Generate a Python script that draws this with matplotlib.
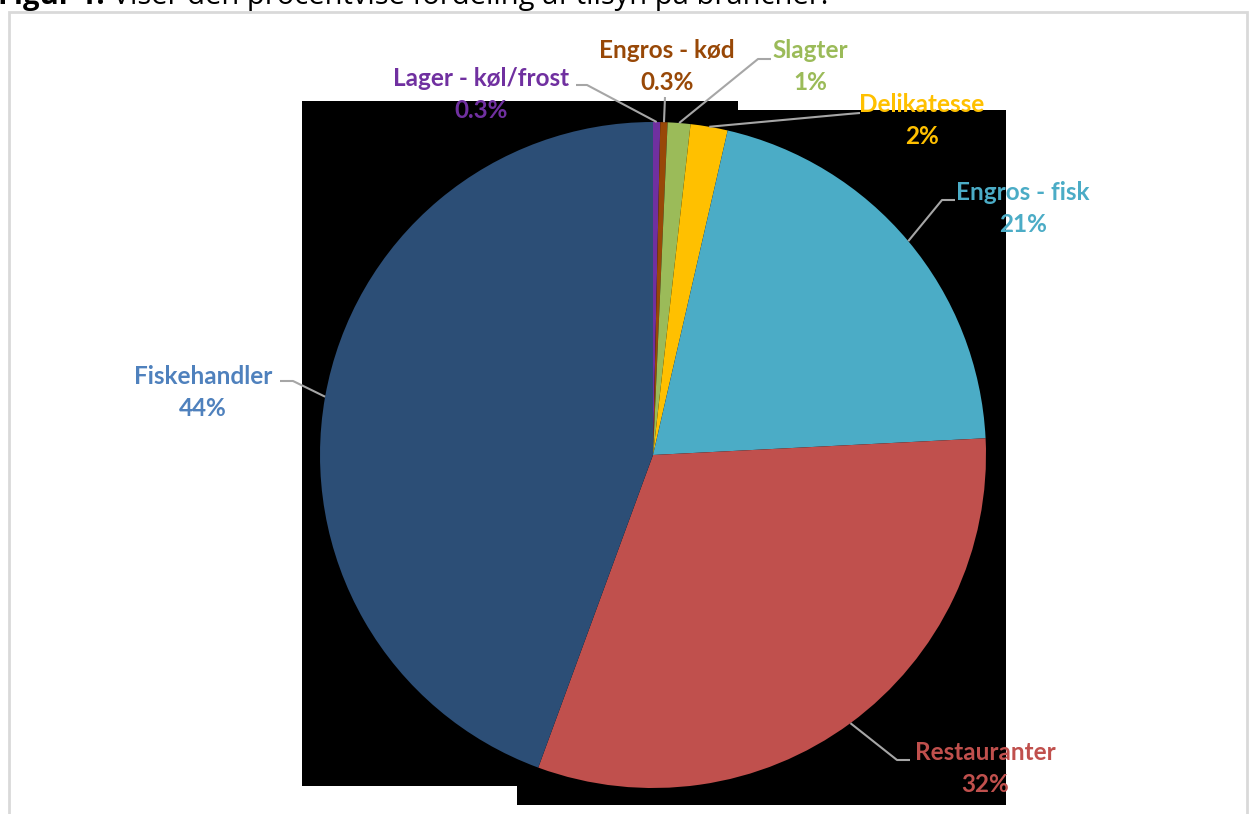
import numpy as np
import matplotlib
matplotlib.use("Agg")
import matplotlib.pyplot as plt
from matplotlib.patches import Polygon, Rectangle

# ---- data ----
categories = ["Lager - køl/frost", "Engros - kød", "Slagter", "Delikatesse",
              "Engros - fisk", "Restauranter", "Fiskehandler"]
values = [0.35, 0.35, 1.1, 1.8, 20.6, 31.4, 44.4]
pct_labels = ["0.3%", "0.3%", "1%", "2%", "21%", "32%", "44%"]
slice_colors = ["#7030A0", "#984807", "#9BBB59", "#FFC000",
                "#4BACC6", "#C0504D", "#2C4E76"]
label_colors = ["#7030A0", "#984807", "#9BBB59", "#FFC000",
                "#4BACC6", "#C0504D", "#4F81BD"]
caption_bold = "Figur 1:"
caption_rest = " Viser den procentvise fordeling af tilsyn på brancher."

W, H = 1250, 814
fig = plt.figure(figsize=(12.5, 8.14), dpi=100)
ax = fig.add_axes([0, 0, 1, 1])
ax.set_xlim(0, W)
ax.set_ylim(0, H)
ax.set_aspect("equal")
ax.axis("off")

def Y(y):  # pixel-from-top -> axis coords
    return H - y

# outer frame
ax.add_patch(Rectangle((9, Y(830)), 1238, 818, fill=False,
                       edgecolor="#D9D9D9", lw=2, zorder=0))

# black backdrop artifact
bg = [(302, 101), (738, 101), (738, 110), (1006, 110), (1006, 805),
      (517, 805), (517, 786), (302, 786)]
ax.add_patch(Polygon([(x, Y(y)) for x, y in bg], closed=True,
                     facecolor="black", edgecolor="none", zorder=1))

# caption (cut off at top, as in the reference)
fs_cap = 21
t1 = ax.text(-2, Y(4), caption_bold, fontsize=fs_cap, fontweight="bold",
             family="Open Sans", ha="left", va="baseline", zorder=5)
fig.canvas.draw()
bb = t1.get_window_extent()
ax.text(bb.x1, Y(4), caption_rest, fontsize=fs_cap, family="Open Sans",
        ha="left", va="baseline", zorder=5)

# pie
cx, cy, r = 653, Y(455), 333
wedges, _ = ax.pie(values, colors=slice_colors, startangle=90, counterclock=False,
                   center=(cx, cy), radius=r, frame=True,
                   wedgeprops=dict(linewidth=0.5, edgecolor="none"))
for w in wedges:
    w.set_zorder(2)
ax.set_xlim(0, W)
ax.set_ylim(0, H)
ax.axis("off")

# label layout (pixel positions from top-left)
name_pos = [(481, 78), (667, 50), (810, 50), (922, 104), (1023, 192), (985, 752), (203, 376)]
line_start = [(576, 85), (665, 97), (771, 59), (860, 113), (955, 200), (910, 760), (280, 381)]
elbow = [(587, 85), (665, 97), (758, 59), (848, 114), (942, 200), (897, 760), (293, 381)]

fs = 17.5
for i, w in enumerate(wedges):
    mid = np.deg2rad((w.theta1 + w.theta2) / 2)
    ex, ey = cx + r * np.cos(mid), cy + r * np.sin(mid)
    xs = [line_start[i][0], elbow[i][0], ex]
    ys = [Y(line_start[i][1]), Y(elbow[i][1]), ey]
    ax.plot(xs, ys, color="#A6A6A6", lw=1.5, zorder=3, solid_capstyle="butt")
    nx, ny = name_pos[i]
    ax.text(nx, Y(ny), categories[i], color=label_colors[i], fontsize=fs,
            fontweight="bold", family="Lato", ha="center", va="center", zorder=4)
    ax.text(nx, Y(ny + 33), pct_labels[i], color=label_colors[i], fontsize=fs,
            fontweight="bold", family="Lato", ha="center", va="center", zorder=4)

fig.savefig("out.png", dpi=100, facecolor="white")
